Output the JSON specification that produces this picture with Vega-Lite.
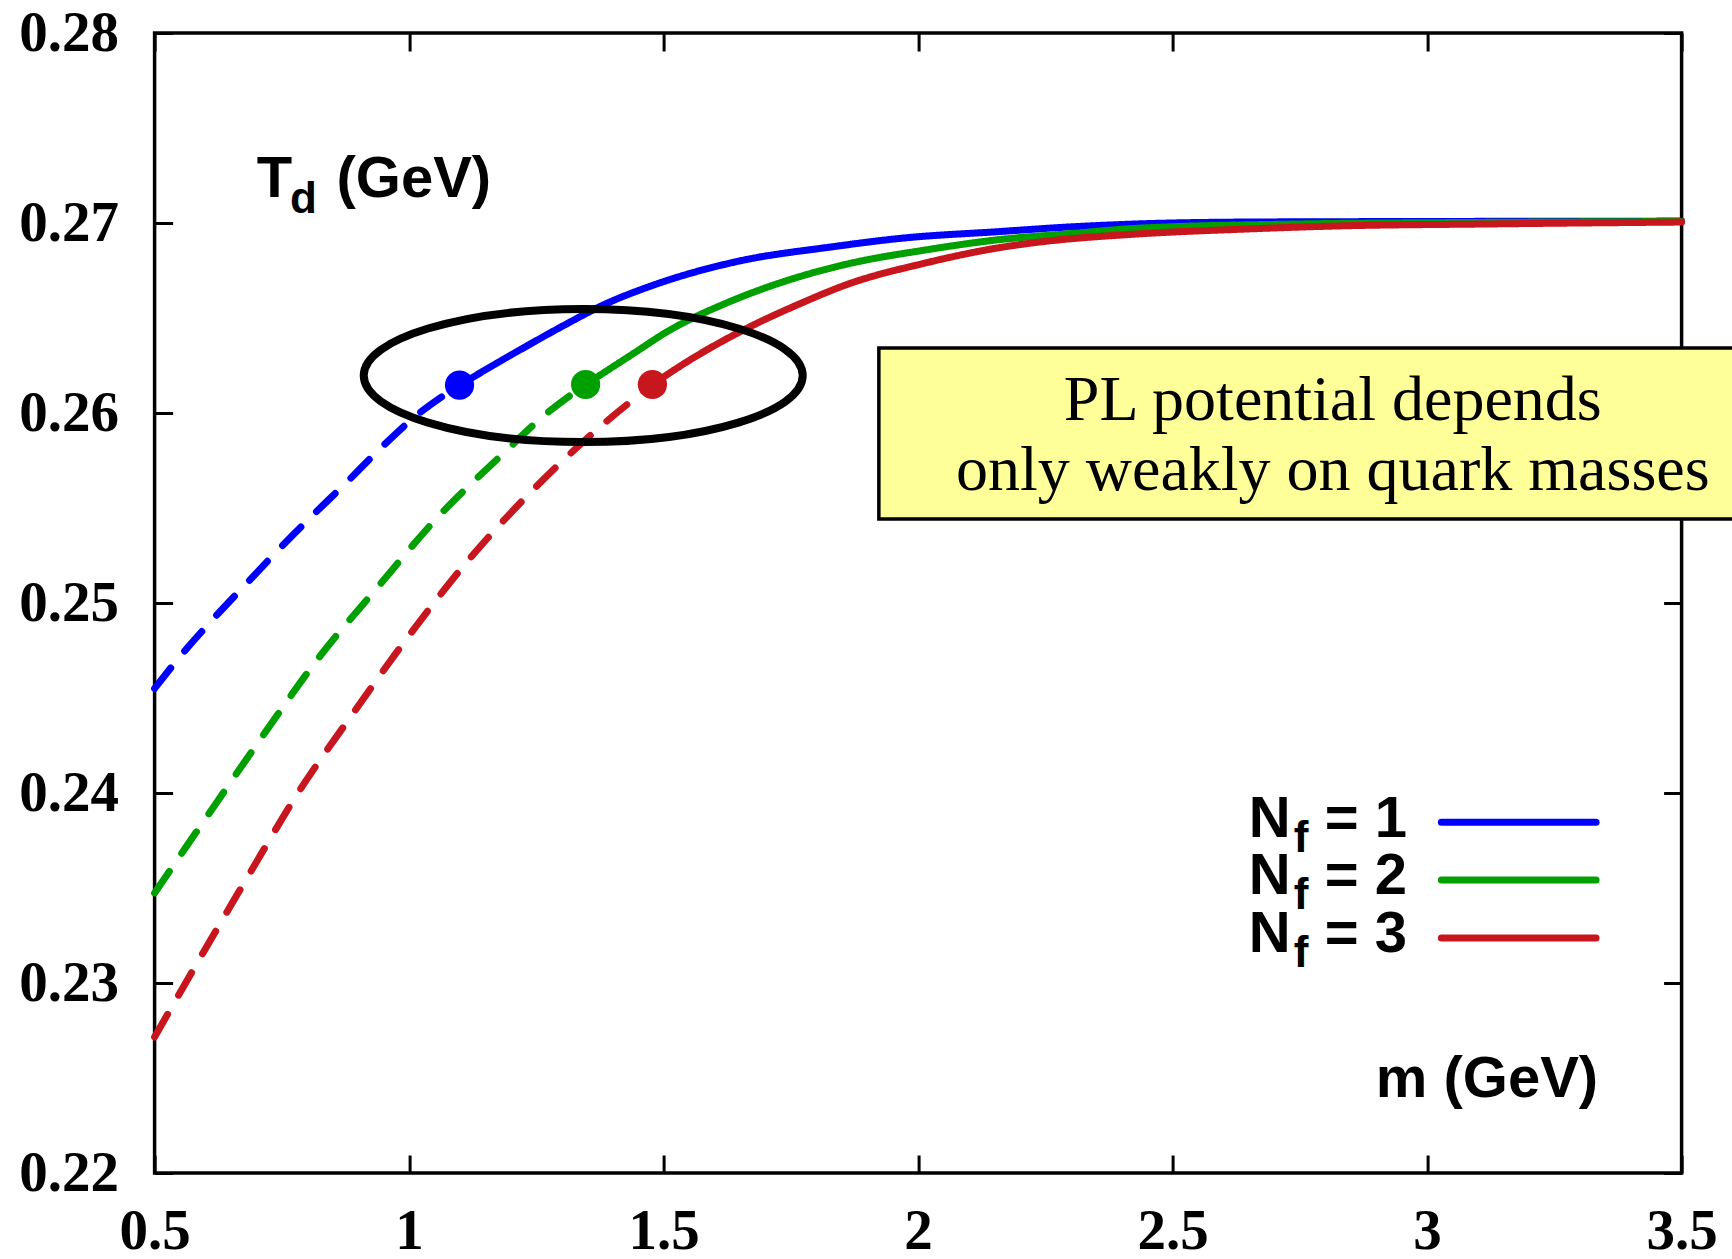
{
  "$schema": "https://vega.github.io/schema/vega-lite/v6.json",
  "width": 1527,
  "height": 1140,
  "autosize": "none",
  "padding": {"left": 154.6, "top": 33, "right": 50.4, "bottom": 86},
  "background": "#ffffff",
  "data": {"values": [{}]},
  "config": {
    "view": {"stroke": "#000000", "strokeWidth": 3.5},
    "axis": {"grid": false, "domain": false, "tickColor": "#000000", "tickWidth": 3, "tickSize": -18,
             "labelFont": "Liberation Serif", "labelFontWeight": "bold", "labelFontSize": 57, "labelColor": "#000000",
             "labelFlush": false, "labelOverlap": false, "labelBound": false}
  },
  "layer": [
    {
      "data": {"values": [
        {"nf": "1", "seg": "dashed", "m": 0.5, "T": 0.2455},
        {"nf": "1", "seg": "dashed", "m": 0.5558, "T": 0.24737},
        {"nf": "1", "seg": "dashed", "m": 0.6186, "T": 0.24926},
        {"nf": "1", "seg": "dashed", "m": 0.6815, "T": 0.25105},
        {"nf": "1", "seg": "dashed", "m": 0.7463, "T": 0.25289},
        {"nf": "1", "seg": "dashed", "m": 0.8111, "T": 0.25463},
        {"nf": "1", "seg": "dashed", "m": 0.878, "T": 0.25637},
        {"nf": "1", "seg": "dashed", "m": 0.9427, "T": 0.25811},
        {"nf": "1", "seg": "dashed", "m": 1.0154, "T": 0.25989},
        {"nf": "1", "seg": "dashed", "m": 1.0991, "T": 0.26147},
        {"nf": "1", "seg": "solid", "m": 1.0991, "T": 0.26147},
        {"nf": "1", "seg": "solid", "m": 1.2001, "T": 0.26305},
        {"nf": "1", "seg": "solid", "m": 1.3061, "T": 0.26464},
        {"nf": "1", "seg": "solid", "m": 1.3763, "T": 0.26562},
        {"nf": "1", "seg": "solid", "m": 1.481, "T": 0.26674},
        {"nf": "1", "seg": "solid", "m": 1.642, "T": 0.26796},
        {"nf": "1", "seg": "solid", "m": 1.8325, "T": 0.26875},
        {"nf": "1", "seg": "solid", "m": 1.972, "T": 0.26921},
        {"nf": "1", "seg": "solid", "m": 2.1547, "T": 0.26954},
        {"nf": "1", "seg": "solid", "m": 2.31, "T": 0.26981},
        {"nf": "1", "seg": "solid", "m": 2.43, "T": 0.26995},
        {"nf": "1", "seg": "solid", "m": 2.642, "T": 0.27005},
        {"nf": "1", "seg": "solid", "m": 3.0, "T": 0.27008},
        {"nf": "1", "seg": "solid", "m": 3.5, "T": 0.2701},
        {"nf": "2", "seg": "dashed", "m": 0.5, "T": 0.23474},
        {"nf": "2", "seg": "dashed", "m": 0.6049, "T": 0.23884},
        {"nf": "2", "seg": "dashed", "m": 0.711, "T": 0.24295},
        {"nf": "2", "seg": "dashed", "m": 0.819, "T": 0.247},
        {"nf": "2", "seg": "dashed", "m": 0.9368, "T": 0.25079},
        {"nf": "2", "seg": "dashed", "m": 1.0567, "T": 0.25453},
        {"nf": "2", "seg": "dashed", "m": 1.1922, "T": 0.25805},
        {"nf": "2", "seg": "dashed", "m": 1.257, "T": 0.25968},
        {"nf": "2", "seg": "dashed", "m": 1.3468, "T": 0.2615},
        {"nf": "2", "seg": "solid", "m": 1.3468, "T": 0.2615},
        {"nf": "2", "seg": "solid", "m": 1.4464, "T": 0.26323},
        {"nf": "2", "seg": "solid", "m": 1.5051, "T": 0.26425},
        {"nf": "2", "seg": "solid", "m": 1.6218, "T": 0.26577},
        {"nf": "2", "seg": "solid", "m": 1.7265, "T": 0.26683},
        {"nf": "2", "seg": "solid", "m": 1.8673, "T": 0.26788},
        {"nf": "2", "seg": "solid", "m": 2.0074, "T": 0.26855},
        {"nf": "2", "seg": "solid", "m": 2.1547, "T": 0.26911},
        {"nf": "2", "seg": "solid", "m": 2.3095, "T": 0.26946},
        {"nf": "2", "seg": "solid", "m": 2.4297, "T": 0.26972},
        {"nf": "2", "seg": "solid", "m": 2.75, "T": 0.26995},
        {"nf": "2", "seg": "solid", "m": 3.1, "T": 0.27003},
        {"nf": "2", "seg": "solid", "m": 3.5, "T": 0.27008},
        {"nf": "3", "seg": "dashed", "m": 0.5, "T": 0.22716},
        {"nf": "3", "seg": "dashed", "m": 0.595, "T": 0.23158},
        {"nf": "3", "seg": "dashed", "m": 0.6874, "T": 0.23579},
        {"nf": "3", "seg": "dashed", "m": 0.7817, "T": 0.24},
        {"nf": "3", "seg": "dashed", "m": 0.8877, "T": 0.24411},
        {"nf": "3", "seg": "dashed", "m": 0.9977, "T": 0.24821},
        {"nf": "3", "seg": "dashed", "m": 1.1136, "T": 0.25216},
        {"nf": "3", "seg": "dashed", "m": 1.2374, "T": 0.25579},
        {"nf": "3", "seg": "dashed", "m": 1.3749, "T": 0.25926},
        {"nf": "3", "seg": "dashed", "m": 1.478, "T": 0.2615},
        {"nf": "3", "seg": "solid", "m": 1.478, "T": 0.2615},
        {"nf": "3", "seg": "solid", "m": 1.5517, "T": 0.26279},
        {"nf": "3", "seg": "solid", "m": 1.657, "T": 0.26437},
        {"nf": "3", "seg": "solid", "m": 1.7618, "T": 0.26568},
        {"nf": "3", "seg": "solid", "m": 1.8673, "T": 0.26683},
        {"nf": "3", "seg": "solid", "m": 2.0074, "T": 0.26785},
        {"nf": "3", "seg": "solid", "m": 2.1547, "T": 0.26868},
        {"nf": "3", "seg": "solid", "m": 2.2392, "T": 0.269},
        {"nf": "3", "seg": "solid", "m": 2.4297, "T": 0.26942},
        {"nf": "3", "seg": "solid", "m": 2.6418, "T": 0.26968},
        {"nf": "3", "seg": "solid", "m": 2.8186, "T": 0.26984},
        {"nf": "3", "seg": "solid", "m": 3.125, "T": 0.26995},
        {"nf": "3", "seg": "solid", "m": 3.5, "T": 0.27005}
      ]},
      "mark": {"type": "line", "strokeWidth": 7, "strokeCap": "round", "strokeJoin": "round", "interpolate": "monotone"},
      "encoding": {
        "x": {"field": "m", "type": "quantitative",
              "scale": {"domain": [0.5, 3.5], "nice": false, "zero": false},
              "axis": {"orient": "bottom", "title": null, "values": [0.5, 1, 1.5, 2, 2.5, 3, 3.5], "format": "~g", "labelPadding": 48, "labelDx": 5}},
        "y": {"field": "T", "type": "quantitative",
              "scale": {"domain": [0.22, 0.28], "nice": false, "zero": false},
              "axis": {"orient": "left", "title": null, "values": [0.22, 0.23, 0.24, 0.25, 0.26, 0.27, 0.28], "format": "~g", "labelPadding": 54}},
        "color": {"field": "nf", "type": "nominal", "scale": {"domain": ["1", "2", "3"], "range": ["#0000ff", "#00a000", "#c8161e"]}, "legend": null},
        "strokeDash": {"field": "seg", "type": "nominal", "scale": {"domain": ["dashed", "solid"], "range": [[26, 22], [1, 0]]}, "legend": null},
        "order": {"field": "m", "type": "quantitative"}
      }
    },
    {
      "data": {"values": [
        {"nf": "1", "m": 1.0991, "T": 0.26147},
        {"nf": "2", "m": 1.3468, "T": 0.2615},
        {"nf": "3", "m": 1.478, "T": 0.2615}
      ]},
      "mark": {"type": "point", "shape": "circle", "filled": true, "size": 855, "opacity": 1},
      "encoding": {
        "x": {"field": "m", "type": "quantitative", "axis": {"orient": "top", "title": null, "labels": false, "values": [0.5, 1, 1.5, 2, 2.5, 3, 3.5]}},
        "y": {"field": "T", "type": "quantitative", "axis": {"orient": "right", "title": null, "labels": false, "values": [0.22, 0.23, 0.24, 0.25, 0.26, 0.27, 0.28]}},
        "color": {"field": "nf", "type": "nominal", "legend": null}
      }
    },
    {
      "mark": {"type": "point", "shape": "M -1 0 C -1 -0.1673 -0.5523 -0.303 0 -0.303 C 0.5523 -0.303 1 -0.1673 1 0 C 1 0.1673 0.5523 0.303 0 0.303 C -0.5523 0.303 -1 0.1673 -1 0 Z",
               "filled": false, "stroke": "#000000", "strokeWidth": 8, "size": 192721, "opacity": 1},
      "encoding": {
        "x": {"datum": 1.3421, "type": "quantitative", "axis": null},
        "y": {"datum": 0.26197, "type": "quantitative", "axis": null}
      }
    },
    {
      "mark": {"type": "rect", "fill": "#ffff99", "stroke": "#000000", "strokeWidth": 3.5},
      "encoding": {
        "x": {"datum": 1.9229, "type": "quantitative", "axis": null},
        "x2": {"datum": 3.7},
        "y": {"datum": 0.26342, "type": "quantitative", "axis": null},
        "y2": {"datum": 0.25442}
      }
    },
    {
      "mark": {"type": "text", "text": "PL potential depends", "font": "Liberation Serif", "fontSize": 64, "align": "center", "baseline": "alphabetic", "color": "#000000"},
      "encoding": {"x": {"datum": 2.8147, "type": "quantitative", "axis": null}, "y": {"datum": 0.25963, "type": "quantitative", "axis": null}}
    },
    {
      "mark": {"type": "text", "text": "only weakly on quark masses", "font": "Liberation Serif", "fontSize": 64, "align": "center", "baseline": "alphabetic", "color": "#000000"},
      "encoding": {"x": {"datum": 2.8147, "type": "quantitative", "axis": null}, "y": {"datum": 0.25595, "type": "quantitative", "axis": null}}
    },
    {
      "mark": {"type": "text", "text": "T", "font": "Liberation Sans", "fontWeight": "bold", "fontSize": 58, "align": "left", "baseline": "alphabetic", "color": "#000000"},
      "encoding": {"x": {"datum": 0.7006, "type": "quantitative", "axis": null}, "y": {"datum": 0.27138, "type": "quantitative", "axis": null}}
    },
    {
      "mark": {"type": "text", "text": "d", "font": "Liberation Sans", "fontWeight": "bold", "fontSize": 44, "align": "left", "baseline": "alphabetic", "color": "#000000"},
      "encoding": {"x": {"datum": 0.766, "type": "quantitative", "axis": null}, "y": {"datum": 0.27051, "type": "quantitative", "axis": null}}
    },
    {
      "mark": {"type": "text", "text": "(GeV)", "font": "Liberation Sans", "fontWeight": "bold", "fontSize": 58, "align": "left", "baseline": "alphabetic", "color": "#000000"},
      "encoding": {"x": {"datum": 0.8573, "type": "quantitative", "axis": null}, "y": {"datum": 0.27138, "type": "quantitative", "axis": null}}
    },
    {
      "mark": {"type": "text", "text": "m (GeV)", "font": "Liberation Sans", "fontWeight": "bold", "fontSize": 58, "align": "left", "baseline": "alphabetic", "color": "#000000"},
      "encoding": {"x": {"datum": 2.8992, "type": "quantitative", "axis": null}, "y": {"datum": 0.22402, "type": "quantitative", "axis": null}}
    },
    {
      "mark": {"type": "text", "text": "N", "font": "Liberation Sans", "fontWeight": "bold", "fontSize": 58, "align": "left", "baseline": "alphabetic", "color": "#000000"},
      "encoding": {"x": {"datum": 2.6497, "type": "quantitative", "axis": null}, "y": {"datum": 0.23768, "type": "quantitative", "axis": null}}
    },
    {
      "mark": {"type": "text", "text": "N", "font": "Liberation Sans", "fontWeight": "bold", "fontSize": 58, "align": "left", "baseline": "alphabetic", "color": "#000000"},
      "encoding": {"x": {"datum": 2.6497, "type": "quantitative", "axis": null}, "y": {"datum": 0.23471, "type": "quantitative", "axis": null}}
    },
    {
      "mark": {"type": "text", "text": "N", "font": "Liberation Sans", "fontWeight": "bold", "fontSize": 58, "align": "left", "baseline": "alphabetic", "color": "#000000"},
      "encoding": {"x": {"datum": 2.6497, "type": "quantitative", "axis": null}, "y": {"datum": 0.23165, "type": "quantitative", "axis": null}}
    },
    {
      "mark": {"type": "text", "text": "f", "font": "Liberation Sans", "fontWeight": "bold", "fontSize": 44, "align": "left", "baseline": "alphabetic", "color": "#000000"},
      "encoding": {"x": {"datum": 2.7381, "type": "quantitative", "axis": null}, "y": {"datum": 0.23689, "type": "quantitative", "axis": null}}
    },
    {
      "mark": {"type": "text", "text": "f", "font": "Liberation Sans", "fontWeight": "bold", "fontSize": 44, "align": "left", "baseline": "alphabetic", "color": "#000000"},
      "encoding": {"x": {"datum": 2.7381, "type": "quantitative", "axis": null}, "y": {"datum": 0.23392, "type": "quantitative", "axis": null}}
    },
    {
      "mark": {"type": "text", "text": "f", "font": "Liberation Sans", "fontWeight": "bold", "fontSize": 44, "align": "left", "baseline": "alphabetic", "color": "#000000"},
      "encoding": {"x": {"datum": 2.7381, "type": "quantitative", "axis": null}, "y": {"datum": 0.23086, "type": "quantitative", "axis": null}}
    },
    {
      "mark": {"type": "text", "text": "= 1", "font": "Liberation Sans", "fontWeight": "bold", "fontSize": 58, "align": "left", "baseline": "alphabetic", "color": "#000000"},
      "encoding": {"x": {"datum": 2.799, "type": "quantitative", "axis": null}, "y": {"datum": 0.23768, "type": "quantitative", "axis": null}}
    },
    {
      "mark": {"type": "text", "text": "= 2", "font": "Liberation Sans", "fontWeight": "bold", "fontSize": 58, "align": "left", "baseline": "alphabetic", "color": "#000000"},
      "encoding": {"x": {"datum": 2.799, "type": "quantitative", "axis": null}, "y": {"datum": 0.23471, "type": "quantitative", "axis": null}}
    },
    {
      "mark": {"type": "text", "text": "= 3", "font": "Liberation Sans", "fontWeight": "bold", "fontSize": 58, "align": "left", "baseline": "alphabetic", "color": "#000000"},
      "encoding": {"x": {"datum": 2.799, "type": "quantitative", "axis": null}, "y": {"datum": 0.23165, "type": "quantitative", "axis": null}}
    },
    {
      "mark": {"type": "rule", "strokeWidth": 7, "strokeCap": "round", "color": "#0000ff"},
      "encoding": {"x": {"datum": 3.028, "type": "quantitative", "axis": null}, "x2": {"datum": 3.332}, "y": {"datum": 0.23846, "type": "quantitative", "axis": null}}
    },
    {
      "mark": {"type": "rule", "strokeWidth": 7, "strokeCap": "round", "color": "#00a000"},
      "encoding": {"x": {"datum": 3.028, "type": "quantitative", "axis": null}, "x2": {"datum": 3.332}, "y": {"datum": 0.23542, "type": "quantitative", "axis": null}}
    },
    {
      "mark": {"type": "rule", "strokeWidth": 7, "strokeCap": "round", "color": "#c8161e"},
      "encoding": {"x": {"datum": 3.028, "type": "quantitative", "axis": null}, "x2": {"datum": 3.332}, "y": {"datum": 0.23237, "type": "quantitative", "axis": null}}
    }
  ]
}
